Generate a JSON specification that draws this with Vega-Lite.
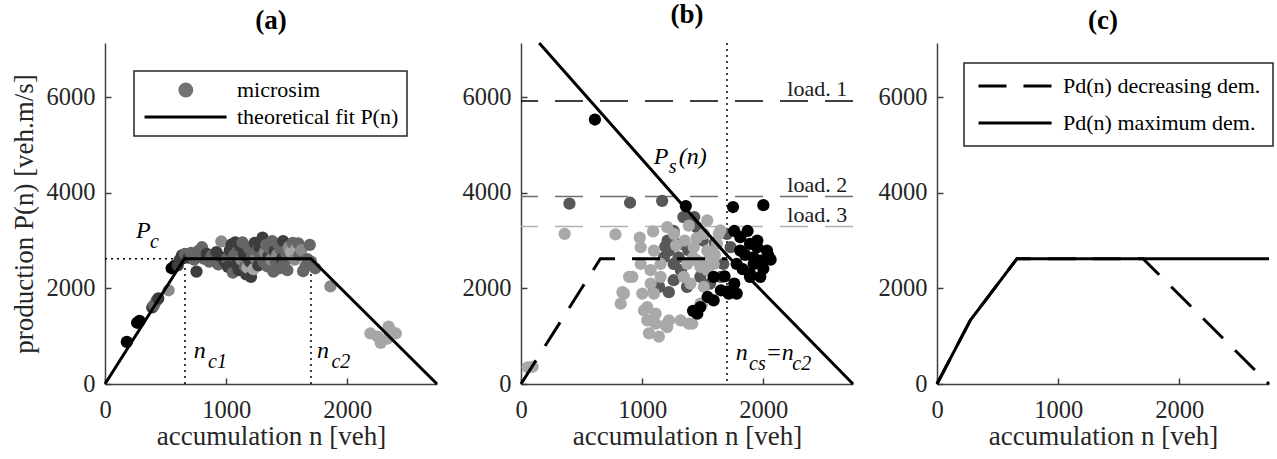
{
  "$schema": "https://vega.github.io/schema/vega-lite/v6.json",
  "background": "white",
  "padding": {"left": 10, "top": 1, "right": 2, "bottom": 2},
  "bounds": "flush",
  "spacing": 84,
  "config": {
    "font": "Liberation Serif",
    "view": {"stroke": null},
    "axis": {"grid": false, "domainColor": "#404040", "domainWidth": 1.5, "tickColor": "#404040", "tickWidth": 1.5, "tickSize": -6, "labelFont": "Liberation Serif", "labelFontSize": 24.5, "labelColor": "#262626", "titleFont": "Liberation Serif", "titleFontSize": 27, "titleFontWeight": "normal", "titleColor": "#262626", "labelFlush": false},
    "axisX": {"labelPadding": 20, "titlePadding": 2},
    "axisY": {"labelPadding": 16, "titlePadding": 8},
    "legend": {"strokeWidth": 1.5},
    "title": {"font": "Liberation Serif", "fontSize": 27, "fontWeight": "bold", "color": "#000000", "offset": 8}
  },
  "resolve": {"scale": {"fill": "independent", "stroke": "independent", "strokeDash": "independent", "color": "independent", "shape": "independent"}},
  "datasets": {
    "a_pts": [
      {"n":180,"P":880,"g":"k"},{"n":265,"P":1280,"g":"k"},{"n":285,"P":1320,"g":"k"},{"n":390,"P":1600,"g":"d"},{"n":405,"P":1650,"g":"m"},{"n":425,"P":1740,"g":"m"},{"n":440,"P":1790,"g":"d"},{"n":525,"P":1960,"g":"l"},{"n":550,"P":2420,"g":"k"},{"n":575,"P":2470,"g":"k"},{"n":600,"P":2480,"g":"d"},{"n":615,"P":2590,"g":"d"},{"n":635,"P":2690,"g":"d"},{"n":660,"P":2720,"g":"m"},{"n":690,"P":2640,"g":"d"},{"n":710,"P":2740,"g":"m"},{"n":735,"P":2600,"g":"m"},{"n":755,"P":2350,"g":"d"},{"n":775,"P":2790,"g":"m"},{"n":800,"P":2860,"g":"m"},{"n":815,"P":2620,"g":"m"},{"n":840,"P":2720,"g":"d"},{"n":860,"P":2560,"g":"m"},{"n":880,"P":2680,"g":"m"},{"n":900,"P":2580,"g":"m"},{"n":920,"P":2760,"g":"d"},{"n":935,"P":2500,"g":"m"},{"n":960,"P":2980,"g":"l"},{"n":965,"P":2650,"g":"d"},{"n":990,"P":2560,"g":"d"},{"n":1005,"P":2620,"g":"m"},{"n":1015,"P":2450,"g":"d"},{"n":1030,"P":2800,"g":"d"},{"n":1045,"P":2920,"g":"d"},{"n":1055,"P":2330,"g":"m"},{"n":1065,"P":2690,"g":"m"},{"n":1075,"P":2960,"g":"d"},{"n":1085,"P":2500,"g":"d"},{"n":1095,"P":2780,"g":"m"},{"n":1105,"P":2380,"g":"d"},{"n":1115,"P":2880,"g":"d"},{"n":1125,"P":2600,"g":"l"},{"n":1135,"P":2960,"g":"m"},{"n":1145,"P":2700,"g":"d"},{"n":1155,"P":2450,"g":"m"},{"n":1165,"P":2290,"g":"d"},{"n":1175,"P":2430,"g":"w"},{"n":1185,"P":2850,"g":"m"},{"n":1195,"P":2560,"g":"d"},{"n":1205,"P":2240,"g":"d"},{"n":1215,"P":2700,"g":"m"},{"n":1225,"P":2400,"g":"w"},{"n":1235,"P":2950,"g":"d"},{"n":1245,"P":2620,"g":"l"},{"n":1255,"P":2790,"g":"m"},{"n":1265,"P":2480,"g":"d"},{"n":1275,"P":2860,"g":"d"},{"n":1285,"P":2660,"g":"m"},{"n":1300,"P":3060,"g":"d"},{"n":1310,"P":2550,"g":"m"},{"n":1320,"P":2760,"g":"l"},{"n":1330,"P":2910,"g":"m"},{"n":1340,"P":2460,"g":"m"},{"n":1350,"P":2680,"g":"d"},{"n":1360,"P":2830,"g":"m"},{"n":1370,"P":2600,"g":"l"},{"n":1380,"P":2990,"g":"m"},{"n":1390,"P":2350,"g":"m"},{"n":1400,"P":2780,"g":"d"},{"n":1410,"P":2530,"g":"m"},{"n":1420,"P":2700,"g":"l"},{"n":1430,"P":2920,"g":"m"},{"n":1440,"P":2420,"g":"m"},{"n":1450,"P":2810,"g":"m"},{"n":1460,"P":2620,"g":"d"},{"n":1470,"P":2990,"g":"d"},{"n":1480,"P":2550,"g":"m"},{"n":1495,"P":2730,"g":"m"},{"n":1505,"P":2380,"g":"m"},{"n":1515,"P":2860,"g":"l"},{"n":1525,"P":2650,"g":"m"},{"n":1535,"P":2760,"g":"w"},{"n":1550,"P":2950,"g":"m"},{"n":1565,"P":2600,"g":"l"},{"n":1580,"P":2830,"g":"w"},{"n":1595,"P":2940,"g":"m"},{"n":1605,"P":2700,"g":"m"},{"n":1620,"P":2800,"g":"l"},{"n":1635,"P":2360,"g":"m"},{"n":1655,"P":2460,"g":"m"},{"n":1670,"P":2610,"g":"m"},{"n":1690,"P":2910,"g":"m"},{"n":1700,"P":2560,"g":"m"},{"n":1735,"P":2420,"g":"m"},{"n":1860,"P":2040,"g":"l"},{"n":2190,"P":1056,"g":"w"},{"n":2250,"P":990,"g":"w"},{"n":2275,"P":860,"g":"w"},{"n":2330,"P":950,"g":"w"},{"n":2340,"P":1200,"g":"w"},{"n":2370,"P":1090,"g":"w"},{"n":2400,"P":1060,"g":"w"}
    ],
    "a_leg": [{"entry":"microsim","n":0,"P":0},{"entry":"theoretical fit P(n)","n":0,"P":0}],
    "a_fit": [{"n":0,"P":0},{"n":655,"P":2620},{"n":1700,"P":2620},{"n":2740,"P":0}],
    "a_dot": [{"n":0,"P":2620,"n2":660,"P2":2620},{"n":660,"P":0,"n2":660,"P2":2620},{"n":1700,"P":0,"n2":1700,"P2":2620}],
    "a_main": [{"n":255,"P":3049,"t":"P"},{"n":733,"P":543,"t":"n"},{"n":1750,"P":543,"t":"n"}],
    "a_sub": [{"n":371,"P":2852,"t":"c"},{"n":851,"P":334,"t":"c1"},{"n":1869,"P":334,"t":"c2"}],
    "b_pts": [
      {"n":400,"P":3770,"grp":"L2"},{"n":900,"P":3790,"grp":"L2"},{"n":1165,"P":3830,"grp":"L2"},{"n":1210,"P":3000,"grp":"L2"},{"n":1220,"P":2790,"grp":"L2"},{"n":1260,"P":2510,"grp":"L2"},{"n":1320,"P":2930,"grp":"L2"},{"n":1340,"P":3490,"grp":"L2"},{"n":1430,"P":3490,"grp":"L2"},{"n":1450,"P":3280,"grp":"L2"},{"n":1700,"P":3140,"grp":"L2"},{"n":1730,"P":2860,"grp":"L2"},{"n":1670,"P":2510,"grp":"L2"},{"n":1560,"P":2650,"grp":"L2"},{"n":1260,"P":2170,"grp":"L2"},{"n":1140,"P":2030,"grp":"L2"},{"n":1220,"P":1920,"grp":"L2"},{"n":1370,"P":2030,"grp":"L2"},{"n":1480,"P":2240,"grp":"L2"},{"n":1560,"P":2100,"grp":"L2"},{"n":1650,"P":2240,"grp":"L2"},{"n":1320,"P":2380,"grp":"L2"},{"n":1180,"P":2650,"grp":"L2"},{"n":1260,"P":3200,"grp":"L2"},{"n":1100,"P":1990,"grp":"L2"},{"n":1600,"P":2950,"grp":"L2"},{"n":1500,"P":3000,"grp":"L2"},{"n":1380,"P":2800,"grp":"L2"},{"n":1190,"P":2870,"grp":"L2"},{"n":1300,"P":2650,"grp":"L2"},
      {"n":55,"P":350,"grp":"L3"},{"n":96,"P":360,"grp":"L3"},{"n":360,"P":3140,"grp":"L3"},{"n":780,"P":3130,"grp":"L3"},{"n":980,"P":3060,"grp":"L3"},{"n":1090,"P":3190,"grp":"L3"},{"n":1207,"P":3280,"grp":"L3"},{"n":1262,"P":3140,"grp":"L3"},{"n":1385,"P":3310,"grp":"L3"},{"n":1537,"P":3420,"grp":"L3"},{"n":1509,"P":3140,"grp":"L3"},{"n":1646,"P":3210,"grp":"L3"},{"n":837,"P":1920,"grp":"L3"},{"n":919,"P":2240,"grp":"L3"},{"n":988,"P":2510,"grp":"L3"},{"n":988,"P":2860,"grp":"L3"},{"n":1097,"P":2790,"grp":"L3"},{"n":1070,"P":2380,"grp":"L3"},{"n":1152,"P":2510,"grp":"L3"},{"n":1097,"P":1890,"grp":"L3"},{"n":1042,"P":1610,"grp":"L3"},{"n":1042,"P":1330,"grp":"L3"},{"n":1111,"P":1260,"grp":"L3"},{"n":1138,"P":990,"grp":"L3"},{"n":1056,"P":1060,"grp":"L3"},{"n":1207,"P":1190,"grp":"L3"},{"n":1317,"P":1330,"grp":"L3"},{"n":1413,"P":1260,"grp":"L3"},{"n":1495,"P":1680,"grp":"L3"},{"n":1509,"P":2030,"grp":"L3"},{"n":1426,"P":2860,"grp":"L3"},{"n":1454,"P":2580,"grp":"L3"},{"n":1537,"P":2790,"grp":"L3"},{"n":1591,"P":2510,"grp":"L3"},{"n":1372,"P":2510,"grp":"L3"},{"n":1399,"P":2100,"grp":"L3"},{"n":1344,"P":2240,"grp":"L3"},{"n":1537,"P":2380,"grp":"L3"},{"n":1618,"P":2930,"grp":"L3"},{"n":1632,"P":3140,"grp":"L3"},{"n":823,"P":1680,"grp":"L3"},{"n":850,"P":1890,"grp":"L3"},{"n":892,"P":2240,"grp":"L3"},{"n":1015,"P":1540,"grp":"L3"},{"n":1001,"P":1890,"grp":"L3"},{"n":1111,"P":1470,"grp":"L3"},{"n":1193,"P":1230,"grp":"L3"},{"n":1221,"P":1330,"grp":"L3"},{"n":1385,"P":1260,"grp":"L3"},{"n":1070,"P":2100,"grp":"L3"},{"n":1152,"P":2240,"grp":"L3"},{"n":1481,"P":1680,"grp":"L3"},{"n":1450,"P":3050,"grp":"L3"},{"n":1550,"P":2600,"grp":"L3"},{"n":1480,"P":2450,"grp":"L3"},{"n":1420,"P":2650,"grp":"L3"},{"n":1600,"P":2700,"grp":"L3"},{"n":1350,"P":3000,"grp":"L3"},{"n":1280,"P":2900,"grp":"L3"},
      {"n":610,"P":5530,"grp":"L1"},{"n":1360,"P":3720,"grp":"L1"},{"n":1750,"P":3700,"grp":"L1"},{"n":2000,"P":3740,"grp":"L1"},{"n":1760,"P":3200,"grp":"L1"},{"n":1810,"P":3070,"grp":"L1"},{"n":1870,"P":3200,"grp":"L1"},{"n":1890,"P":2930,"grp":"L1"},{"n":1950,"P":2860,"grp":"L1"},{"n":2040,"P":2690,"grp":"L1"},{"n":1980,"P":2580,"grp":"L1"},{"n":2000,"P":2410,"grp":"L1"},{"n":1890,"P":2240,"grp":"L1"},{"n":1920,"P":2510,"grp":"L1"},{"n":1810,"P":2790,"grp":"L1"},{"n":1780,"P":2510,"grp":"L1"},{"n":1760,"P":2100,"grp":"L1"},{"n":1715,"P":1890,"grp":"L1"},{"n":1650,"P":1960,"grp":"L1"},{"n":1590,"P":1750,"grp":"L1"},{"n":1540,"P":1820,"grp":"L1"},{"n":1455,"P":1470,"grp":"L1"},{"n":1480,"P":1610,"grp":"L1"},{"n":1780,"P":1890,"grp":"L1"},{"n":1590,"P":2240,"grp":"L1"},{"n":1920,"P":2650,"grp":"L1"},{"n":2030,"P":2790,"grp":"L1"},{"n":1975,"P":2240,"grp":"L1"},{"n":1700,"P":1930,"grp":"L1"},{"n":1750,"P":1960,"grp":"L1"},{"n":1890,"P":2310,"grp":"L1"},{"n":2060,"P":2600,"grp":"L1"},{"n":1850,"P":2700,"grp":"L1"},{"n":1830,"P":2400,"grp":"L1"},{"n":1950,"P":3000,"grp":"L1"},{"n":1680,"P":2250,"grp":"L1"},{"n":1420,"P":1530,"grp":"L1"}
    ],
    "b_loads": [{"load":"load. 1","P":5916,"n":2198},{"load":"load. 2","P":3918,"n":2198},{"load":"load. 3","P":3291,"n":2198}],
    "b_v": [{"n":1700}],
    "b_pd": [{"n":0,"P":0},{"n":655,"P":2620},{"n":1700,"P":2620}],
    "b_ps": [{"n":150,"P":7130},{"n":1700,"P":2690},{"n":2740,"P":0}],
    "b_main": [{"n":1096,"P":4600,"t":"P"},{"n":1302,"P":4600,"t":"(n)"},{"n":1772,"P":507,"t":"n"},{"n":2019,"P":507,"t":"=n"}],
    "b_sub": [{"n":1220,"P":4412,"t":"s"},{"n":1882,"P":299,"t":"cs"},{"n":2239,"P":299,"t":"c2"}],
    "c_lines": [
      {"s":"Pd(n) decreasing dem.","n":0,"P":0},{"s":"Pd(n) decreasing dem.","n":275,"P":1333},{"s":"Pd(n) decreasing dem.","n":660,"P":2620},{"s":"Pd(n) decreasing dem.","n":1700,"P":2620},{"s":"Pd(n) decreasing dem.","n":2740,"P":0},
      {"s":"Pd(n) maximum dem.","n":0,"P":0},{"s":"Pd(n) maximum dem.","n":275,"P":1333},{"s":"Pd(n) maximum dem.","n":660,"P":2620},{"s":"Pd(n) maximum dem.","n":2740,"P":2620}
    ]
  },
  "hconcat": [
    {
      "width": 332, "height": 341,
      "title": {"text": "(a)"},
      "layer": [
        {"data": {"name": "a_dot"}, "mark": {"type": "rule", "strokeDash": [2, 4], "strokeWidth": 1.5, "color": "#000000"},
         "encoding": {
           "x": {"field": "n", "type": "quantitative", "scale": {"domain": [0, 2740], "nice": false}, "axis": {"values": [0, 1000, 2000], "format": "d", "title": "accumulation n [veh]"}},
           "y": {"field": "P", "type": "quantitative", "scale": {"domain": [0, 7130], "nice": false}, "axis": {"values": [0, 2000, 4000, 6000], "format": "d", "title": "production P(n) [veh.m/s]"}},
           "x2": {"field": "n2"}, "y2": {"field": "P2"}}},
        {"data": {"name": "a_pts"}, "mark": {"type": "point", "filled": true, "size": 150, "strokeWidth": 0, "opacity": 1},
         "encoding": {
           "x": {"field": "n", "type": "quantitative", "scale": {"domain": [0, 2740], "nice": false}, "axis": {"values": [0, 1000, 2000], "format": "d", "title": "accumulation n [veh]"}},
           "y": {"field": "P", "type": "quantitative", "scale": {"domain": [0, 7130], "nice": false}, "axis": {"values": [0, 2000, 4000, 6000], "format": "d", "title": "production P(n) [veh.m/s]"}},
           "fill": {"field": "g", "type": "nominal", "scale": {"domain": ["k", "d", "m", "l", "w"], "range": ["#000000", "#3d3d3d", "#666666", "#8a8a8a", "#a6a6a6"]}, "legend": null}}},
        {"data": {"name": "a_fit"}, "mark": {"type": "line", "strokeWidth": 3, "color": "#000000"},
         "encoding": {
           "x": {"field": "n", "type": "quantitative", "scale": {"domain": [0, 2740], "nice": false}, "axis": {"values": [0, 1000, 2000], "format": "d", "title": "accumulation n [veh]"}},
           "y": {"field": "P", "type": "quantitative", "scale": {"domain": [0, 7130], "nice": false}, "axis": {"values": [0, 2000, 4000, 6000], "format": "d", "title": "production P(n) [veh.m/s]"}}}},
        {"data": {"name": "a_leg"}, "mark": {"type": "point", "filled": true, "size": 289, "opacity": 0, "strokeWidth": 0},
         "encoding": {
           "x": {"field": "n", "type": "quantitative", "scale": {"domain": [0, 2740], "nice": false}, "axis": {"values": [0, 1000, 2000], "format": "d", "title": "accumulation n [veh]"}},
           "y": {"field": "P", "type": "quantitative", "scale": {"domain": [0, 7130], "nice": false}, "axis": {"values": [0, 2000, 4000, 6000], "format": "d", "title": "production P(n) [veh.m/s]"}},
           "color": {"field": "entry", "type": "nominal", "scale": {"domain": ["microsim", "theoretical fit P(n)"], "range": ["#737373", "#000000"]},
             "legend": {"title": null, "orient": "none", "legendX": 29, "legendY": 28, "padding": 8, "strokeColor": "#262626", "fillColor": "#ffffff", "labelFont": "Liberation Serif", "labelFontSize": 22, "labelColor": "#000000", "labelLimit": 0, "symbolSize": 289, "symbolOpacity": 1, "symbolStrokeWidth": 0, "labelOffset": 73, "rowPadding": 5}},
           "shape": {"field": "entry", "type": "nominal", "scale": {"domain": ["microsim", "theoretical fit P(n)"], "range": ["M4.74,0L4.673,0.337L4.482,0.622L4.197,0.813L3.86,0.88L3.523,0.813L3.238,0.622L3.047,0.337L2.98,0L3.047,-0.337L3.238,-0.622L3.523,-0.813L3.86,-0.88L4.197,-0.813L4.482,-0.622L4.673,-0.337Z", "M-1,-0.176H8.65V0.176H-1Z"]},
             "legend": {"title": null, "orient": "none", "legendX": 29, "legendY": 28, "padding": 8, "strokeColor": "#262626", "fillColor": "#ffffff", "labelFont": "Liberation Serif", "labelFontSize": 22, "labelColor": "#000000", "labelLimit": 0, "symbolSize": 289, "symbolOpacity": 1, "symbolStrokeWidth": 0, "labelOffset": 73, "rowPadding": 5}}}},
        {"data": {"name": "a_main"}, "mark": {"type": "text", "font": "Liberation Serif", "fontStyle": "italic", "fontSize": 24, "align": "left", "baseline": "alphabetic", "color": "#000000"},
         "encoding": {
           "x": {"field": "n", "type": "quantitative", "scale": {"domain": [0, 2740], "nice": false}, "axis": {"values": [0, 1000, 2000], "format": "d", "title": "accumulation n [veh]"}},
           "y": {"field": "P", "type": "quantitative", "scale": {"domain": [0, 7130], "nice": false}, "axis": {"values": [0, 2000, 4000, 6000], "format": "d", "title": "production P(n) [veh.m/s]"}},
           "text": {"field": "t"}}},
        {"data": {"name": "a_sub"}, "mark": {"type": "text", "font": "Liberation Serif", "fontStyle": "italic", "fontSize": 20, "align": "left", "baseline": "alphabetic", "color": "#000000"},
         "encoding": {
           "x": {"field": "n", "type": "quantitative", "scale": {"domain": [0, 2740], "nice": false}, "axis": {"values": [0, 1000, 2000], "format": "d", "title": "accumulation n [veh]"}},
           "y": {"field": "P", "type": "quantitative", "scale": {"domain": [0, 7130], "nice": false}, "axis": {"values": [0, 2000, 4000, 6000], "format": "d", "title": "production P(n) [veh.m/s]"}},
           "text": {"field": "t"}}}
      ]
    },
    {
      "width": 332, "height": 341,
      "title": {"text": "(b)"},
      "layer": [
        {"data": {"name": "b_loads"}, "mark": {"type": "rule", "strokeDash": [28, 17], "strokeWidth": 1.5},
         "encoding": {
           "y": {"field": "P", "type": "quantitative", "scale": {"domain": [0, 7130], "nice": false}, "axis": {"values": [0, 2000, 4000, 6000], "format": "d", "title": null}},
           "color": {"field": "load", "type": "nominal", "scale": {"domain": ["load. 1", "load. 2", "load. 3"], "range": ["#000000", "#6e6e6e", "#b0b0b0"]}, "legend": null}}},
        {"data": {"name": "b_v"}, "mark": {"type": "rule", "strokeDash": [2, 4], "strokeWidth": 1.5, "color": "#000000"},
         "encoding": {
           "x": {"field": "n", "type": "quantitative", "scale": {"domain": [0, 2740], "nice": false}, "axis": {"values": [0, 1000, 2000], "format": "d", "title": "accumulation n [veh]"}}}},
        {"data": {"name": "b_pts"}, "mark": {"type": "point", "filled": true, "size": 150, "strokeWidth": 0, "opacity": 1},
         "encoding": {
           "x": {"field": "n", "type": "quantitative", "scale": {"domain": [0, 2740], "nice": false}, "axis": {"values": [0, 1000, 2000], "format": "d", "title": "accumulation n [veh]"}},
           "y": {"field": "P", "type": "quantitative", "scale": {"domain": [0, 7130], "nice": false}, "axis": {"values": [0, 2000, 4000, 6000], "format": "d", "title": null}},
           "fill": {"field": "grp", "type": "nominal", "scale": {"domain": ["L1", "L2", "L3"], "range": ["#000000", "#575757", "#a9a9a9"]}, "legend": null}}},
        {"data": {"name": "b_pd"}, "mark": {"type": "line", "strokeWidth": 3, "strokeDash": [28, 17], "color": "#000000"},
         "encoding": {
           "x": {"field": "n", "type": "quantitative", "scale": {"domain": [0, 2740], "nice": false}, "axis": {"values": [0, 1000, 2000], "format": "d", "title": "accumulation n [veh]"}},
           "y": {"field": "P", "type": "quantitative", "scale": {"domain": [0, 7130], "nice": false}, "axis": {"values": [0, 2000, 4000, 6000], "format": "d", "title": null}}}},
        {"data": {"name": "b_ps"}, "mark": {"type": "line", "strokeWidth": 3, "color": "#000000"},
         "encoding": {
           "x": {"field": "n", "type": "quantitative", "scale": {"domain": [0, 2740], "nice": false}, "axis": {"values": [0, 1000, 2000], "format": "d", "title": "accumulation n [veh]"}},
           "y": {"field": "P", "type": "quantitative", "scale": {"domain": [0, 7130], "nice": false}, "axis": {"values": [0, 2000, 4000, 6000], "format": "d", "title": null}}}},
        {"data": {"name": "b_loads"}, "mark": {"type": "text", "font": "Liberation Serif", "fontSize": 22, "align": "left", "baseline": "alphabetic", "dy": -5, "color": "#1a1a1a"},
         "encoding": {
           "x": {"field": "n", "type": "quantitative", "scale": {"domain": [0, 2740], "nice": false}, "axis": {"values": [0, 1000, 2000], "format": "d", "title": "accumulation n [veh]"}},
           "y": {"field": "P", "type": "quantitative", "scale": {"domain": [0, 7130], "nice": false}, "axis": {"values": [0, 2000, 4000, 6000], "format": "d", "title": null}},
           "text": {"field": "load"}}},
        {"data": {"name": "b_main"}, "mark": {"type": "text", "font": "Liberation Serif", "fontStyle": "italic", "fontSize": 24, "align": "left", "baseline": "alphabetic", "color": "#000000"},
         "encoding": {
           "x": {"field": "n", "type": "quantitative", "scale": {"domain": [0, 2740], "nice": false}, "axis": {"values": [0, 1000, 2000], "format": "d", "title": "accumulation n [veh]"}},
           "y": {"field": "P", "type": "quantitative", "scale": {"domain": [0, 7130], "nice": false}, "axis": {"values": [0, 2000, 4000, 6000], "format": "d", "title": null}},
           "text": {"field": "t"}}},
        {"data": {"name": "b_sub"}, "mark": {"type": "text", "font": "Liberation Serif", "fontStyle": "italic", "fontSize": 20, "align": "left", "baseline": "alphabetic", "color": "#000000"},
         "encoding": {
           "x": {"field": "n", "type": "quantitative", "scale": {"domain": [0, 2740], "nice": false}, "axis": {"values": [0, 1000, 2000], "format": "d", "title": "accumulation n [veh]"}},
           "y": {"field": "P", "type": "quantitative", "scale": {"domain": [0, 7130], "nice": false}, "axis": {"values": [0, 2000, 4000, 6000], "format": "d", "title": null}},
           "text": {"field": "t"}}}
      ]
    },
    {
      "width": 332, "height": 341,
      "title": {"text": "(c)"},
      "layer": [
        {"data": {"name": "c_lines"}, "mark": {"type": "line", "strokeWidth": 3, "color": "#000000"},
         "encoding": {
           "x": {"field": "n", "type": "quantitative", "scale": {"domain": [0, 2740], "nice": false}, "axis": {"values": [0, 1000, 2000], "format": "d", "title": "accumulation n [veh]"}},
           "y": {"field": "P", "type": "quantitative", "scale": {"domain": [0, 7130], "nice": false}, "axis": {"values": [0, 2000, 4000, 6000], "format": "d", "title": null}},
           "strokeDash": {"field": "s", "type": "nominal", "scale": {"domain": ["Pd(n) decreasing dem.", "Pd(n) maximum dem."], "range": [[28, 17], [1, 0]]},
             "legend": {"title": null, "orient": "none", "legendX": 27, "legendY": 20, "padding": 12, "strokeColor": "#262626", "fillColor": "#ffffff", "labelFont": "Liberation Serif", "labelFontSize": 22, "labelColor": "#000000", "labelLimit": 0, "symbolType": "M-1,0H7.6", "symbolSize": 289, "symbolStrokeWidth": 3, "symbolStrokeColor": "#000000", "labelOffset": 65, "rowPadding": 15}}}}
      ]
    }
  ]
}
